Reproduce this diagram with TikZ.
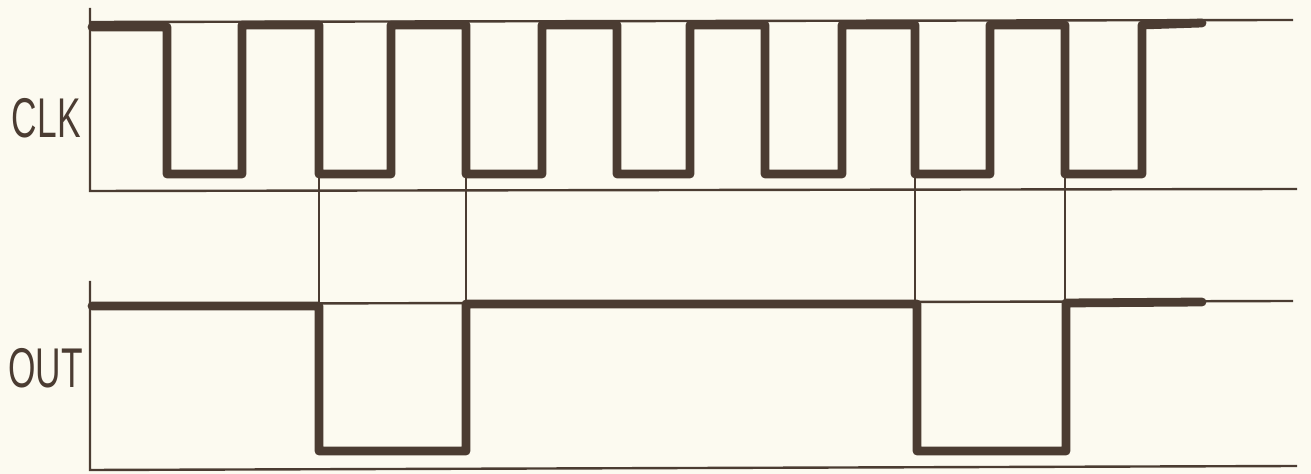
\documentclass[tikz,border=0pt]{standalone}
\usepackage{fontspec}
\setmainfont{Liberation Sans}
\definecolor{ink}{RGB}{75,60,50}
\definecolor{paper}{RGB}{252,250,240}
\tikzset{wave/.style={ink,line width=4.4pt,line join=round,line cap=round},
         thin/.style={ink,line width=1.2pt},
         lbl/.style={ink,anchor=east,inner sep=0pt,font=\fontsize{28}{28}\selectfont}}
\begin{document}
\begin{tikzpicture}[x=0.5pt,y=-0.5pt]
\useasboundingbox[fill=paper] (0,0) rectangle (1311,474);
% axes and reference lines
\draw[thin] (90,8) -- (90,191) -- (1297,189);
\draw[thin] (90,22) -- (1293,20);
\draw[thin] (90,281) -- (90,470) -- (1297,466);
\draw[thin] (90,304) -- (1293,301);
% labels
\node[lbl](clk) at (81,118) {\scalebox{0.63}[1]{CLK}};
\node[lbl](out) at (83,368) {\scalebox{0.63}[1]{OUT}};
% sync lines
\foreach \x in {319,466,915,1065}
  \draw[thin] (\x,174) -- (\x,303);
% clock
\draw[wave] (92,27) \foreach \f/\r in {167/242,319/391,466/542,617/690,765/842,915/990,1065/1142}
  { -| (\f,174) -| (\r,25) } -- (1202,23);
% output
\draw[wave] (92,306) -| (319,451) -| (466,304) -| (917,451) -| (1066,303) -- (1202,302);
\end{tikzpicture}
\end{document}
